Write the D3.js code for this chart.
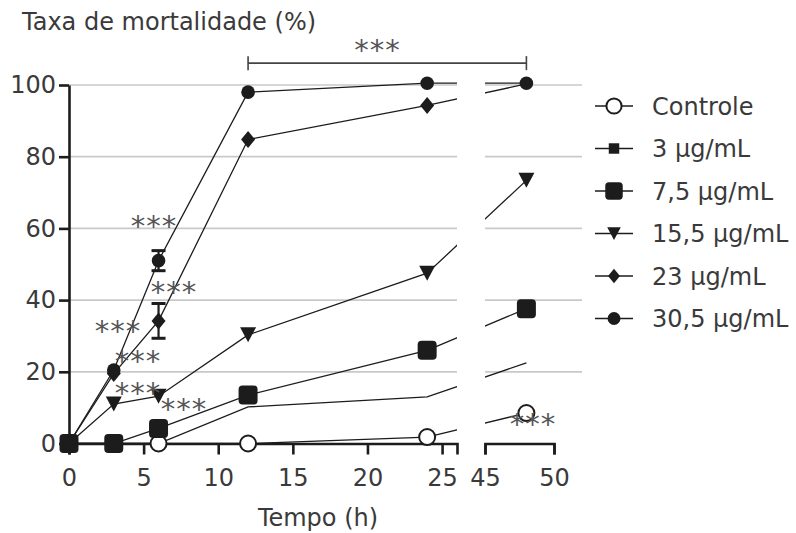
<!DOCTYPE html>
<html><head><meta charset="utf-8">
<script src="https://cdn.jsdelivr.net/npm/d3@7"></script>
<style>
body{margin:0;background:#fff}
svg{display:block}
text{font-family:"DejaVu Sans",Verdana,sans-serif}
</style>
</head><body>
<svg id="c" width="796" height="533"></svg>
<script>
// ---------------- data ----------------
const times = [0, 3, 6, 12, 24, 48];
const seriesNames = ["Controle", "3 µg/mL", "7,5 µg/mL", "15,5 µg/mL", "23 µg/mL", "30,5 µg/mL"];
const controle = [0, 0, 0, 0, 1.8, 8.5];
const ug3      = [0, 0, 0, 10.2, 13, 22.5];
const ug7_5    = [0, 0, 4.2, 13.5, 26, 37.6];
const ug15_5   = [0, 11, 13.2, 30.3, 47.5, 73.4];
const ug23     = [0, 19.5, 34.2, 84.8, 94.3, 100.3];
const ug30_5   = [0, 20.5, 51, 98, 100.5, 100.5];
const err23    = [0, 0, 4.85, 0, 0, 0];
const err30_5  = [0, 0, 2.8, 0, 0, 0];
const yTicks = [0, 20, 40, 60, 80, 100];
const xTicksLeft = [0, 5, 10, 15, 20, 25];
const xTicksRight = [45, 50];
const yTitle = "Taxa de mortalidade (%)";
const xTitle = "Tempo (h)";
const sigText = "***";

// ---------------- layout ----------------
const svg = d3.select("#c");
const FS = 24;
const INK = "#1c1c1c";
const TXT = "#3a3a3a";

const x = d3.scaleLinear().domain([0, 26, 45, 50]).range([69, 457, 485, 554]);
const xL = d3.scaleLinear().domain([0, 26]).range([69, 457]);
const xR = d3.scaleLinear().domain([45, 50]).range([485, 554]);
const y = d3.scaleLinear().domain([0, 100]).range([443.5, 85]);

const defs = svg.append("defs");
const cp = defs.append("clipPath").attr("id", "gapclip");
cp.append("rect").attr("x", 0).attr("y", 0).attr("width", xL.range()[1]).attr("height", 533);
cp.append("rect").attr("x", xR.range()[0]).attr("y", 0).attr("width", 796 - xR.range()[0]).attr("height", 533);

// gridlines
const grid = svg.append("g");
yTicks.filter(v => v > 0).forEach(v => {
  grid.append("line").attr("x1", xL.range()[0]).attr("x2", xL.range()[1])
    .attr("y1", y(v)).attr("y2", y(v)).attr("stroke", "#c9c9c9").attr("stroke-width", 1.7);
  grid.append("line").attr("x1", xR.range()[0]).attr("x2", 582)
    .attr("y1", y(v)).attr("y2", y(v)).attr("stroke", "#c9c9c9").attr("stroke-width", 1.7);
});

// axes
function styleAxis(g) {
  g.selectAll("path").attr("stroke", INK).attr("stroke-width", 2.6);
  g.selectAll("line").attr("stroke", INK).attr("stroke-width", 2.6);
  g.selectAll("text").attr("fill", TXT).style("font-size", FS + "px").style("font-family", '"DejaVu Sans",Verdana,sans-serif');
}
const fmt = d3.format("d");
svg.append("g").attr("transform", `translate(${xL.range()[0]},0)`)
  .call(d3.axisLeft(y).tickValues(yTicks).tickFormat(fmt).tickSize(10).tickSizeOuter(0).tickPadding(3))
  .call(styleAxis);
svg.append("g").attr("transform", `translate(0,${y(0)})`)
  .call(d3.axisBottom(xL).tickValues(xTicksLeft).tickFormat(fmt).tickSize(11).tickSizeOuter(11).tickPadding(14))
  .call(styleAxis);
svg.append("g").attr("transform", `translate(0,${y(0)})`)
  .call(d3.axisBottom(xR).tickValues(xTicksRight).tickFormat(fmt).tickSize(11).tickSizeOuter(11).tickPadding(14))
  .call(styleAxis);

// titles
svg.append("text").attr("x", 22).attr("y", 29.5).attr("fill", TXT).style("font-size", FS + "px").text(yTitle);
svg.append("text").attr("x", 318).attr("y", 525.5).attr("text-anchor", "middle").attr("fill", TXT).style("font-size", FS + "px").text(xTitle);

// markers
function marker(g, type, cx, cy, s) {
  s = s || 1;
  if (type === "ocircle") {
    g.append("circle").attr("cx", cx).attr("cy", cy).attr("r", 8 * s).attr("fill", "#fff").attr("stroke", INK).attr("stroke-width", 2);
  } else if (type === "ssquare") {
    const w = 11 * s;
    g.append("rect").attr("x", cx - w / 2).attr("y", cy - w / 2).attr("width", w).attr("height", w).attr("fill", INK);
  } else if (type === "bsquare") {
    const w = 19 * s;
    g.append("rect").attr("x", cx - w / 2).attr("y", cy - w / 2).attr("width", w).attr("height", w).attr("rx", 4 * s).attr("fill", INK);
  } else if (type === "tri") {
    const hw = 8 * s, hh = 7.5 * s;
    g.append("path").attr("d", `M${cx - hw},${cy - hh}L${cx + hw},${cy - hh}L${cx},${cy + hh}Z`).attr("fill", INK);
  } else if (type === "diam") {
    const hw = 7 * s, hh = 8.5 * s;
    g.append("path").attr("d", `M${cx},${cy - hh}L${cx + hw},${cy}L${cx},${cy + hh}L${cx - hw},${cy}Z`).attr("fill", INK);
  } else if (type === "circle") {
    g.append("circle").attr("cx", cx).attr("cy", cy).attr("r", 6.8 * s).attr("fill", INK);
  }
}

const series = [
  { name: seriesNames[0], values: controle, type: "ocircle", show: true },
  { name: seriesNames[1], values: ug3, type: "ssquare", show: false },
  { name: seriesNames[2], values: ug7_5, type: "bsquare", show: true },
  { name: seriesNames[3], values: ug15_5, type: "tri", show: true },
  { name: seriesNames[4], values: ug23, type: "diam", show: true, err: err23, hideLast: true },
  { name: seriesNames[5], values: ug30_5, type: "circle", show: true, err: err30_5 },
];

// lines
const lineGen = d3.line().x(d => x(d[0])).y(d => y(d[1]));
const lines = svg.append("g").attr("clip-path", "url(#gapclip)");
series.forEach(s => {
  lines.append("path").attr("d", lineGen(times.map((t, i) => [t, s.values[i]])))
    .attr("fill", "none").attr("stroke", INK).attr("stroke-width", 1.3);
});

// error bars
const eb = svg.append("g");
series.filter(s => s.err).forEach(s => {
  times.forEach((t, i) => {
    const e = s.err[i];
    if (!e) return;
    const cx = x(t), lo = y(s.values[i] - e), hi = y(s.values[i] + e);
    eb.append("line").attr("x1", cx).attr("x2", cx).attr("y1", lo).attr("y2", hi).attr("stroke", INK).attr("stroke-width", 2.2);
    [lo, hi].forEach(yy => eb.append("line").attr("x1", cx - 7).attr("x2", cx + 7).attr("y1", yy).attr("y2", yy).attr("stroke", INK).attr("stroke-width", 3));
  });
});

// points
const pts = svg.append("g");
series.forEach(s => {
  if (!s.show) return;
  times.forEach((t, i) => {
    if (s.hideLast && i === times.length - 1) return; // hidden behind 30,5 µg/mL marker in the original
    marker(pts, s.type, x(t), y(s.values[i]), 1);
  });
});

// legend
const lg = svg.append("g");
series.forEach((s, i) => {
  const cy = 106 + i * 42.5;
  lg.append("line").attr("x1", 595).attr("x2", 633).attr("y1", cy).attr("y2", cy).attr("stroke", INK).attr("stroke-width", 1.6);
  const sc = s.type === "bsquare" ? 0.92 : (s.type === "tri" || s.type === "diam") ? 0.85 : 0.95;
  marker(lg, s.type, 614, cy, sc);
  lg.append("text").attr("x", 652).attr("y", cy).attr("dy", "0.36em").attr("fill", TXT).style("font-size", FS + "px").text(s.name);
});

// significance annotations (data coordinates)
const ann = svg.append("g");
const stars = [[5.63, 61.8], [6.97, 43.4], [3.22, 32.5], [4.56, 24.1], [4.56, 15.2], [7.64, 10.7], [20.6, 110.9], [48.4, 6.6]];
stars.forEach(([t, v]) => {
  ann.append("text").attr("x", x(t) + 1).attr("y", y(v) + 14)
    .attr("text-anchor", "middle").attr("fill", "#555").style("font-size", "29px").style("letter-spacing", "1px").text(sigText);
});
// bracket 12h - 48h
const by = y(106.1);
ann.append("line").attr("x1", x(12)).attr("x2", x(48)).attr("y1", by).attr("y2", by).attr("stroke", "#444").attr("stroke-width", 1.6);
[x(12), x(48)].forEach(bx => ann.append("line").attr("x1", bx).attr("x2", bx).attr("y1", by - 7).attr("y2", by + 7).attr("stroke", "#444").attr("stroke-width", 1.6));
</script>
</body></html>
